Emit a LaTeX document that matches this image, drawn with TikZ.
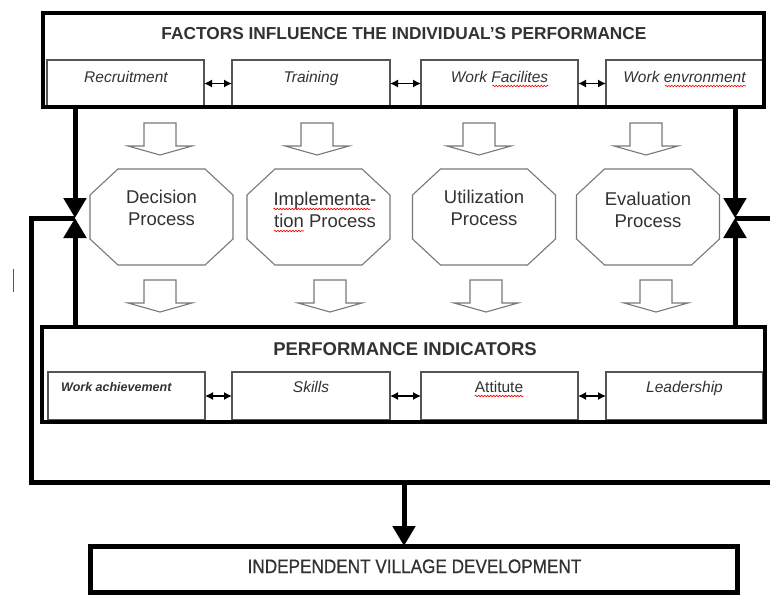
\documentclass[tikz,border=0pt]{standalone}
\usepackage{fontspec}
\setmainfont{Liberation Sans}
\newfontfamily\narrowfont[FakeStretch=0.88,FakeBold=0.7]{Liberation Sans}
\usetikzlibrary{arrows.meta,decorations.pathmorphing}
\definecolor{txt}{RGB}{50,50,50}
\definecolor{thin}{RGB}{85,85,85}
\definecolor{octc}{RGB}{120,120,120}
\tikzset{
  bigbox/.style={draw=black, line width=4.5pt, inner sep=0pt, outer sep=0pt},
  subbox/.style={draw=thin, line width=1.1pt, inner sep=0pt, outer sep=0pt, minimum height=47pt},
  lab/.style={text=txt, font=\fontsize{15.5}{18}\selectfont\itshape, inner sep=0pt, anchor=base},
  ttl/.style={text=txt, font=\fontsize{17.3}{20}\selectfont\bfseries, inner sep=0pt, anchor=base},
  dbl/.style={{Latex[length=8pt,width=8pt]}-{Latex[length=8pt,width=8pt]}, line width=1.3pt},
  bar/.style={line width=5pt, line cap=butt, line join=miter},
  tipped/.style={bar, -{Triangle[length=20pt,width=22pt]}},
  octbox/.style={minimum width=143pt, minimum height=96pt, inner sep=0pt, outer sep=0pt},
  octtxt/.style={text=txt, font=\fontsize{18.5}{22}\selectfont, inner sep=0pt, anchor=base},
  squig/.style={draw=red, line width=0.6pt, decorate, decoration={snake, amplitude=0.8pt, segment length=3pt}},
  blockdown/.pic={\draw[draw=octc, line width=1.1pt, fill=white, line join=miter]
      (-16,0) -- (-16,23) -- (-32,23) -- (0,32) -- (32,23) -- (16,23) -- (16,0) -- cycle;}
}
\begin{document}
\begin{tikzpicture}[x=1pt,y=-1pt]
\useasboundingbox (0,0) rectangle (770,595);

% ---------- top box ----------
\node[subbox, minimum width=157pt] (rec) at (125.5,83.5) {};
\node[subbox, minimum width=158pt] (tra) at (311,83.5) {};
\node[subbox, minimum width=157pt] (fac) at (499.5,83.5) {};
\node[subbox, minimum width=157pt] (env) at (684.5,83.5) {};
\node[bigbox, minimum width=721pt, minimum height=94pt] (top) at (403.5,60) {};
\node[ttl] (toptitle) at (404,39) {FACTORS INFLUENCE THE INDIVIDUAL'S PERFORMANCE};
\node[lab] (recT) at (126,82) {Recruitment};
\node[lab] (traT) at (311,82) {Training};
\node[lab] (facT) at (499.5,82) {Work Facilites};
\node[lab] (envT) at (684.5,82) {Work envronment};
\draw[squig] ([xshift=-56pt,yshift=-4pt]facT.base east) -- ([yshift=-4pt]facT.base east);
\draw[squig] ([xshift=-81pt,yshift=-4pt]envT.base east) -- ([yshift=-4pt]envT.base east);
\draw[dbl] (rec.east) -- (tra.west);
\draw[dbl] (tra.east) -- (fac.west);
\draw[dbl] (fac.east) -- (env.west);

% ---------- block arrows above ----------
\pic (ua1) at (160,123) {blockdown};
\pic (ua2) at (317,123) {blockdown};
\pic (ua3) at (479,123) {blockdown};
\pic (ua4) at (646,123) {blockdown};

% ---------- octagons ----------
\foreach \n/\x in {dec/161.5, imp/318.5, uti/484, eva/648}{
  \node[octbox] (\n) at (\x,217) {};
  \draw[draw=octc, line width=1.1pt]
    ([xshift=28pt]\n.north west) -- ([xshift=-28pt]\n.north east)
    -- ([yshift=-26pt]\n.north east) -- ([yshift=26pt]\n.south east)
    -- ([xshift=-28pt]\n.south east) -- ([xshift=28pt]\n.south west)
    -- ([yshift=26pt]\n.south west) -- ([yshift=-26pt]\n.north west) -- cycle;
}
\node[octtxt] (decT1) at (161.5,203) {Decision};
\node[octtxt] (decT2) at (161.5,225) {Process};
\node[octtxt] (impT1) at (325,205) {Implementa-};
\node[octtxt] (impT2) at (325,227) {tion Process};
\node[octtxt] (utiT1) at (484,203) {Utilization};
\node[octtxt] (utiT2) at (484,225) {Process};
\node[octtxt] (evaT1) at (648,205) {Evaluation};
\node[octtxt] (evaT2) at (648,227) {Process};
\draw[squig] ([yshift=-4pt]impT1.base west) -- ([xshift=-6pt,yshift=-4pt]impT1.base east);
\draw[squig] ([yshift=-4pt]impT2.base west) -- ([xshift=30pt,yshift=-4pt]impT2.base west);

% ---------- block arrows below ----------
\pic (da1) at (160,280) {blockdown};
\pic (da2) at (330,280) {blockdown};
\pic (da3) at (486,280) {blockdown};
\pic (da4) at (656,280) {blockdown};

% ---------- performance box ----------
\node[subbox, minimum width=157pt, minimum height=48pt] (wa) at (126.5,396) {};
\node[subbox, minimum width=158pt, minimum height=48pt] (sk) at (311,396) {};
\node[subbox, minimum width=157pt, minimum height=48pt] (at) at (499.5,396) {};
\node[subbox, minimum width=157pt, minimum height=48pt] (le) at (684.5,396) {};
\node[bigbox, minimum width=723pt, minimum height=95pt] (perf) at (403.5,374.5) {};
\node[ttl, font=\fontsize{18.5}{22}\selectfont\bfseries] (perftitle) at (405,355) {PERFORMANCE INDICATORS};
\node[lab, font=\fontsize{12.5}{15}\selectfont\bfseries\itshape, anchor=base west] (waT) at (61,391) {Work achievement};
\node[lab] (skT) at (311,392) {Skills};
\node[lab, font=\fontsize{15.5}{18}\selectfont] (atT) at (499,392) {Attitute};
\node[lab] (leT) at (684.5,392) {Leadership};
\draw[squig] ([yshift=-4pt]atT.base west) -- ([yshift=-4pt]atT.base east);
\draw[dbl] (wa.east) -- (sk.west);
\draw[dbl] (sk.east) -- (at.west);
\draw[dbl] (at.east) -- (le.west);

% ---------- bottom box ----------
\node[bigbox, line width=5pt, minimum width=647pt, minimum height=46pt] (dev) at (413.5,569) {};
\node[text=txt, font=\narrowfont\fontsize{19.5}{22}\selectfont, inner sep=0pt, anchor=base] (devT) at (414.5,573) {INDEPENDENT VILLAGE DEVELOPMENT};

% ---------- thick connectors ----------
\coordinate (jl) at (75,218);
\coordinate (jr) at (735,218);
\coordinate (ll) at (31,218);
\coordinate (lb) at (31,482);
\coordinate (rb) at (770,482);
\coordinate (rr) at (770,218);
\coordinate (mid) at (404,482);

\draw[tipped] (top.south -| jl) -- (jl);
\draw[tipped] (perf.north -| jl) -- (jl);
\draw[tipped] (top.south -| jr) -- (jr);
\draw[tipped] (perf.north -| jr) -- (jr);
\draw[bar] (jl) -- (ll) -- (lb) -- (rb);
\draw[bar] (jr) -- (rr);
\draw[tipped] (mid) -- (mid |- dev.north);

% stray mark
\draw[draw=thin, line width=1pt] (13,269) -- (13,292);
\end{tikzpicture}
\end{document}
